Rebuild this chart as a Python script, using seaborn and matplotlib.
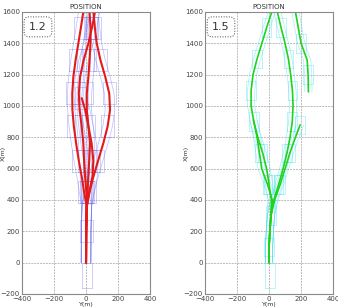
import numpy as np
import pandas as pd
import seaborn as sns
import matplotlib.pyplot as plt

# forward distance (m) at the sampled track nodes, left panel
fwd_left = [0, 200, 357, 450, 549, 650, 762, 870, 975, 1080, 1187, 1293, 1400, 1500, 1600]

# left panel ("1.2"): lateral position (m) of each red track
red_1 = [0, 1, 4, -12, -27, -45, -62, -76, -85, -86, -79, -65, -48, -32, -17]
red_2 = [0, 1, 4, 2, -6, -12, -17, -27, -40, -45, -37, -15, 15, 37, 56]
red_3 = [0, 1, 4, 22, 46, 75, 108, 135, 150, 145, 120, 90, 67, 55, 46]
red_4 = [0, 1, 6, 10, 14, 20, 25, 15, 5, 5, 15, 22, 28, 28, 22]
red_short_lat = [0, 1, 4, 20, 40, 46, 35, 15, -5, -27]
red_short_fwd = [0, 200, 357, 450, 549, 650, 762, 870, 975, 1050]

# right panel ("1.5"): green tracks
fwd_right = [0, 100, 200, 300, 400, 500, 600, 700, 800, 900, 1000, 1100,
             1200, 1300, 1400, 1500, 1600]
green_1 = [0, 0, 5, 12, 20, -10, -46, -60, -75, -95, -112, -112, -100, -75, -45, -15, 17]
green_2 = [0, 0, 5, 12, 30, 60, 88, 112, 131, 145, 150, 146, 135, 121, 100, 75, 52]
green_a_lat = [0, 0, 5, 12, 15, 0, -15, -40, -70, -98]
green_a_fwd = [0, 100, 200, 300, 400, 500, 600, 700, 800, 911]
green_b_lat = [0, 0, 5, 12, 35, 70, 100, 130, 165, 194]
green_b_fwd = [0, 100, 200, 300, 400, 500, 600, 700, 800, 879]
green_top_lat = [246, 244, 238, 200, 165]
green_top_fwd = [1090, 1200, 1293, 1400, 1600]

# starting box (lateral, forward)
start_lat = [-27, 36]
start_fwd = [-163, 0]

x_ticks = [-400, -200, 0, 200, 400]
y_ticks = [-200, 0, 200, 400, 600, 800, 1000, 1200, 1400, 1600]

left_tracks = [(red_1, fwd_left), (red_2, fwd_left), (red_3, fwd_left),
               (red_4, fwd_left), (red_short_lat, red_short_fwd)]
right_tracks = [(green_1, fwd_right), (green_2, fwd_right),
                (green_a_lat, green_a_fwd), (green_b_lat, green_b_fwd),
                (green_top_lat, green_top_fwd)]


def track_frame(tracks):
    rows = []
    for k, (lat, fwd) in enumerate(tracks):
        for a, b in zip(lat, fwd):
            rows.append((k, a, b))
    return pd.DataFrame(rows, columns=["track", "lat", "fwd"])


def outline_frame(tracks, hw, hh):
    # footprint boxes at every other node plus the side edges of each track
    rows = []
    seen = set()
    u = 0
    for lat, fwd in tracks:
        lat = np.asarray(lat, float)
        fwd = np.asarray(fwd, float)
        for a, b in zip(lat[1::2], fwd[1::2]):
            key = (round(a / 10), round(b / 50))
            if b <= 0 or key in seen:
                continue
            seen.add(key)
            xs = [a - hw, a + hw, a + hw, a - hw, a - hw]
            ys = [b - hh, b - hh, b + hh, b + hh, b - hh]
            for x, y in zip(xs, ys):
                rows.append((u, x, y))
            u += 1
        for side in (-hw * 0.75, hw * 0.75):
            for a, b in zip(lat + side, fwd):
                rows.append((u, a, b))
            u += 1
    xs = [start_lat[0], start_lat[1], start_lat[1], start_lat[0], start_lat[0]]
    ys = [start_fwd[0], start_fwd[0], start_fwd[1], start_fwd[1], start_fwd[0]]
    for x, y in zip(xs, ys):
        rows.append((u, x, y))
    return pd.DataFrame(rows, columns=["unit", "lat", "fwd"])


sns.set_style("white")
plt.rcParams["font.family"] = ["DejaVu Sans"]

fig = plt.figure(figsize=(3.38, 3.08), dpi=100)
ax1 = fig.add_axes([0.065, 0.0455, 0.379, 0.9156])
ax2 = fig.add_axes([0.6065, 0.0455, 0.379, 0.9156])

panels = [
    (ax1, left_tracks, "#6b6bf0", 0.45, 40, 70, "#e31a1c", 1.5, "1.2"),
    (ax2, right_tracks, "#40e0ee", 0.5, 30, 60, "#1ed21e", 1.2, "1.5"),
]

for ax, tracks, ocol, oalpha, hw, hh, lcol, lw, tag in panels:
    sns.lineplot(data=outline_frame(tracks, hw, hh), x="lat", y="fwd",
                 units="unit", estimator=None, sort=False, color=ocol,
                 alpha=oalpha, lw=0.5, ax=ax, legend=False)
    sns.lineplot(data=track_frame(tracks), x="lat", y="fwd",
                 units="track", estimator=None, sort=False, color=lcol,
                 lw=lw, ax=ax, legend=False)
    ax.set_xlim(-400, 400)
    ax.set_ylim(-200, 1600)
    ax.set_xticks(x_ticks)
    ax.set_yticks(y_ticks)
    ax.grid(True, color="#bbbbbb", linestyle=(0, (2, 1)), lw=0.7)
    ax.tick_params(length=0, labelsize=5, labelcolor="#444444", pad=1.5)
    ax.tick_params(axis="x", pad=1.5)
    for s in ax.spines.values():
        s.set_color("#8a8a8a")
        s.set_linewidth(0.8)
    ax.set_title("POSITION", fontsize=5, color="#333333", pad=2)
    ax.set_xlabel("Y(m)", fontsize=4.5, color="#333333")
    ax.set_ylabel("X(m)", fontsize=4.5, color="#333333")
    ax.xaxis.set_label_coords(0.5, -0.03)
    ax.yaxis.set_label_coords(-0.13, 0.5)
    ax.text(-300, 1505, tag, fontsize=8, color="#333333", ha="center",
            va="center",
            bbox=dict(boxstyle="round,pad=0.45", fc="white", ec="#444444",
                      ls=":", lw=0.7))

fig.savefig("out.png", dpi=100)
